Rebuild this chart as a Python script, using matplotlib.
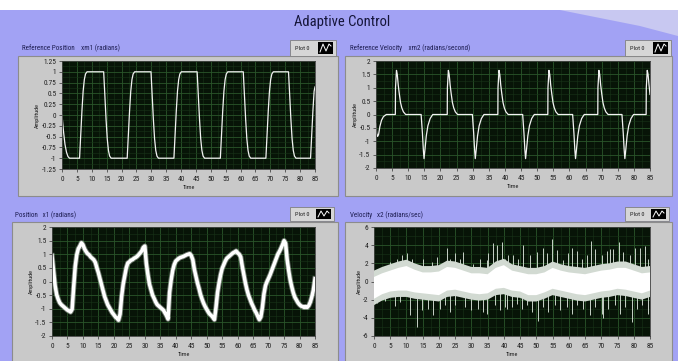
import numpy as np
import matplotlib.pyplot as plt
from matplotlib import font_manager
from matplotlib.patches import Rectangle, Polygon
from matplotlib.ticker import AutoMinorLocator, FormatStrFormatter

names = {f.name for f in font_manager.fontManager.ttflist}
narrow = next((n for n in ['Liberation Sans Narrow', 'DejaVu Sans Condensed',
                           'Roboto Condensed', 'Open Sans Condensed'] if n in names), 'DejaVu Sans')
plt.rcParams['font.family'] = [narrow, 'DejaVu Sans']
plt.rcParams['font.stretch'] = 'condensed'

# reference position xm1 (radians)
ref_pos_t = [0, 0.5, 1.0, 1.5, 2.0, 2.5,
             5.9, 6.3, 6.7, 7.1, 7.5, 7.9, 8.4,
             14.0, 14.4, 14.8, 15.2, 15.6, 16.0, 16.5,
             21.9, 22.3, 22.7, 23.1, 23.5, 23.9, 24.4,
             29.9, 30.3, 30.7, 31.1, 31.5, 31.9, 32.4,
             37.6, 38.0, 38.4, 38.8, 39.2, 39.6, 40.1,
             45.4, 45.8, 46.2, 46.6, 47.0, 47.4, 47.9,
             53.2, 53.6, 54.0, 54.4, 54.8, 55.2, 55.7,
             60.9, 61.3, 61.7, 62.1, 62.5, 62.9, 63.4,
             68.5, 68.9, 69.3, 69.7, 70.1, 70.5, 71.0,
             76.1, 76.5, 76.9, 77.3, 77.7, 78.1, 78.6,
             83.5, 83.9, 84.3, 84.7, 85.0]
ref_pos_y = [0.0, -0.38, -0.68, -0.86, -0.96, -1.0,
             -1.0, -0.45, 0.1, 0.55, 0.82, 0.95, 1.0,
             1.0, 0.45, -0.1, -0.55, -0.82, -0.95, -1.0,
             -1.0, -0.45, 0.1, 0.55, 0.82, 0.95, 1.0,
             1.0, 0.45, -0.1, -0.55, -0.82, -0.95, -1.0,
             -1.0, -0.45, 0.1, 0.55, 0.82, 0.95, 1.0,
             1.0, 0.45, -0.1, -0.55, -0.82, -0.95, -1.0,
             -1.0, -0.45, 0.1, 0.55, 0.82, 0.95, 1.0,
             1.0, 0.45, -0.1, -0.55, -0.82, -0.95, -1.0,
             -1.0, -0.45, 0.1, 0.55, 0.82, 0.95, 1.0,
             1.0, 0.45, -0.1, -0.55, -0.82, -0.95, -1.0,
             -1.0, -0.45, 0.1, 0.55, 0.65]

# reference velocity xm2 (radians/second)
ref_vel_t = [0, 0.2, 0.5, 0.8, 1.2, 1.7, 2.3, 3.2,
             6.0, 6.05, 6.35, 6.6, 6.9, 7.2, 7.6, 8.0, 8.5, 9.2,
             14.0, 14.4, 14.7, 14.9, 15.2, 15.6, 16.1, 16.8, 17.6,
             22.1, 22.15, 22.45, 22.7, 23.0, 23.3, 23.7, 24.1, 24.6, 25.3,
             29.9, 30.3, 30.6, 30.8, 31.1, 31.5, 32.0, 32.7, 33.5,
             37.8, 37.85, 38.15, 38.4, 38.7, 39.0, 39.4, 39.8, 40.3, 41.0,
             45.5, 45.9, 46.2, 46.4, 46.7, 47.1, 47.6, 48.3, 49.1,
             53.3, 53.35, 53.65, 53.9, 54.2, 54.5, 54.9, 55.3, 55.8, 56.5,
             61.0, 61.4, 61.7, 61.9, 62.2, 62.6, 63.1, 63.8, 64.6,
             68.8, 68.85, 69.15, 69.4, 69.7, 70.0, 70.4, 70.8, 71.3, 72.0,
             76.3, 76.7, 77.0, 77.2, 77.5, 77.9, 78.4, 79.1, 79.9,
             83.8, 83.85, 84.15, 84.4, 84.7, 85.0]
ref_vel_y = [-0.35, -0.7, -0.82, -0.75, -0.45, -0.22, -0.08, 0.0,
             0, 1.0, 1.65, 1.5, 1.1, 0.8, 0.45, 0.25, 0.1, 0,
             0, -0.7, -1.35, -1.65, -1.3, -0.8, -0.42, -0.15, 0,
             0, 1.0, 1.65, 1.5, 1.1, 0.8, 0.45, 0.25, 0.1, 0,
             0, -0.7, -1.35, -1.65, -1.3, -0.8, -0.42, -0.15, 0,
             0, 1.0, 1.65, 1.5, 1.1, 0.8, 0.45, 0.25, 0.1, 0,
             0, -0.7, -1.35, -1.65, -1.3, -0.8, -0.42, -0.15, 0,
             0, 1.0, 1.65, 1.5, 1.1, 0.8, 0.45, 0.25, 0.1, 0,
             0, -0.7, -1.35, -1.65, -1.3, -0.8, -0.42, -0.15, 0,
             0, 1.0, 1.65, 1.5, 1.1, 0.8, 0.45, 0.25, 0.1, 0,
             0, -0.7, -1.35, -1.65, -1.3, -0.8, -0.42, -0.15, 0,
             0, 1.0, 1.65, 1.5, 1.1, 0.75]

# measured position x1 (radians), every 0.5 s
pos_t = np.arange(0, 85.01, 0.5)
pos_y = [0.95, 0.40, -0.15, -0.48, -0.65, -0.78, -0.85, -0.90, -0.95, -1.00,
         -1.05, -1.08, -1.12, -1.02, -0.20, 0.55, 0.98, 1.20, 1.30, 1.42,
         1.35, 1.20, 1.10, 1.02, 0.98, 0.90, 0.85, 0.80, 0.70, 0.50,
         0.32, 0.10, -0.12, -0.35, -0.55, -0.70, -0.85, -0.95, -1.05, -1.15,
         -1.22, -1.30, -1.35, -1.42, -1.20, -0.55, -0.10, 0.20, 0.50, 0.68,
         0.72, 0.78, 0.80, 0.85, 0.88, 0.92, 0.98, 1.05, 1.12, 1.25,
         1.30, 0.65, 0.25, -0.10, -0.30, -0.50, -0.62, -0.75, -0.85, -0.90,
         -0.95, -1.00, -1.05, -1.15, -1.25, -1.38, -0.40, 0.05, 0.40, 0.62,
         0.75, 0.80, 0.85, 0.88, 0.90, 0.92, 0.95, 0.98, 1.00, 1.02,
         0.95, 0.80, 0.45, 0.20, -0.05, -0.25, -0.48, -0.65, -0.80, -0.92,
         -1.02, -1.12, -1.20, -1.25, -1.32, -1.40, -0.95, -0.40, -0.05, 0.25,
         0.48, 0.62, 0.75, 0.85, 0.90, 0.95, 1.00, 1.05, 1.08, 1.12,
         1.05, 1.00, 0.90, 0.55, 0.25, -0.05, -0.30, -0.50, -0.65, -0.80,
         -0.92, -1.05, -1.15, -1.28, -1.40, -1.30, -0.95, -0.45, -0.15, 0.00,
         0.12, 0.25, 0.40, 0.55, 0.70, 0.85, 1.00, 1.10, 1.22, 1.35,
         1.50, 1.40, 0.80, 0.40, 0.05, -0.20, -0.42, -0.58, -0.68, -0.78,
         -0.85, -0.90, -0.92, -0.95, -0.92, -0.95, -0.88, -0.75, -0.55, -0.30,
         0.10]

# measured velocity x2 (radians/sec): band envelopes every 2.5 s and spikes
vel_t = np.arange(0, 85.01, 2.5)
vel_hi = [0.5, 0.9, 1.2, 1.5, 1.7, 1.3, 1.0, 1.0, 1.1, 1.6, 1.5, 1.2, 0.9, 0.9,
          0.8, 1.5, 1.8, 1.2, 1.0, 0.8, 0.8, 1.0, 1.5, 1.2, 1.0, 0.9, 0.8, 1.0,
          1.2, 1.3, 1.5, 1.5, 1.2, 0.9, 1.0]
vel_lo = [-1.9, -1.4, -1.1, -1.0, -1.0, -1.2, -1.3, -1.4, -1.5, -1.0, -0.9, -1.1,
          -1.3, -1.4, -1.3, -0.8, -0.7, -1.0, -1.1, -1.5, -1.5, -1.2, -0.8, -1.0,
          -1.2, -1.4, -1.5, -1.3, -1.1, -1.0, -0.8, -0.9, -1.1, -1.3, -1.0]
vel_hi_out = [1.2, 1.6, 1.9, 2.2, 2.4, 2.0, 1.7, 1.7, 1.8, 2.3, 2.2, 1.9, 1.6, 1.6,
              1.5, 2.2, 2.5, 1.9, 1.7, 1.5, 1.5, 1.7, 2.2, 1.9, 1.7, 1.6, 1.5, 1.7,
              1.9, 2.0, 2.2, 2.2, 1.9, 1.6, 1.7]
vel_lo_out = [-2.6, -2.1, -1.8, -1.7, -1.7, -1.9, -2.0, -2.1, -2.2, -1.7, -1.6, -1.8,
              -2.0, -2.1, -2.0, -1.5, -1.4, -1.7, -1.8, -2.2, -2.2, -1.9, -1.5, -1.7,
              -1.9, -2.1, -2.2, -2.0, -1.8, -1.7, -1.5, -1.6, -1.8, -2.0, -1.7]
spike_t = [4.9, 7.0, 8.5, 10.1, 11.6, 15.2, 17.8, 19.3, 22.4, 23.4, 24.9, 26.5,
           27.5, 30.6, 32.6, 34.7, 35.2, 36.8, 37.8, 39.3, 40.3, 41.4, 42.9, 44.5,
           46.0, 48.0, 50.1, 52.2, 53.2, 54.7, 56.3, 58.3, 59.9, 60.9, 62.4, 64.0,
           65.5, 66.8, 68.1, 70.1, 71.7, 72.7, 73.7, 75.3, 76.8, 78.9, 80.4, 82.0,
           83.5, 84.5,
           0.8, 3.4, 6.5, 8.0, 11.1, 13.1, 14.7, 16.7, 18.3, 20.3, 21.9, 23.4,
           24.9, 28.0, 30.0, 32.1, 33.7, 34.7, 37.3, 38.8, 40.3, 40.9, 42.4, 43.9,
           45.5, 47.0, 48.6, 50.6, 52.2, 53.7, 55.7, 57.3, 59.4, 60.9, 62.4, 64.5,
           66.5, 68.1, 70.1, 70.6, 72.2, 74.2, 75.7, 77.3, 79.4, 80.9, 82.5, 84.3]
spike_v = [2.2, 2.5, 2.9, 3.1, 2.5, 2.5, 2.2, 2.7, 3.7, 2.5, 3.1, 2.5,
           3.2, 1.9, 2.5, 2.4, 3.1, 4.2, 4.0, 4.3, 2.5, 2.9, 2.9, 2.5,
           4.0, 2.9, 3.3, 3.7, 3.1, 4.7, 3.5, 2.4, 3.1, 3.7, 3.4, 2.5,
           2.9, 4.5, 3.6, 2.9, 3.4, 3.6, 3.6, 4.3, 3.3, 2.9, 3.7, 3.7,
           3.9, 2.5,
           -2.4, -2.2, -2.7, -2.3, -3.7, -5.0, -3.1, -3.0, -3.7, -3.0, -2.6, -3.4,
           -2.6, -2.8, -3.1, -3.0, -3.4, -3.6, -2.6, -3.1, -2.8, -3.0, -2.8, -2.5,
           -3.0, -2.6, -3.4, -4.3, -2.8, -3.4, -2.6, -3.1, -2.8, -3.6, -2.6, -3.0,
           -3.7, -2.8, -3.6, -4.0, -3.0, -2.6, -3.6, -2.8, -4.5, -3.0, -2.6, -3.6]

x_ticks = np.arange(0, 86, 5)

W, H = 678, 361
fig = plt.figure(figsize=(W / 100, H / 100), dpi=100)
fig.patch.set_facecolor('#a2a2f4')

bg = fig.add_axes([0, 0, 1, 1])
bg.set_xlim(0, W)
bg.set_ylim(H, 0)
bg.axis('off')

# washed-out strip along the top of the screenshot
bg.add_patch(Rectangle((0, 0), W, 10, fc='white', ec='none'))
bg.add_patch(Polygon([(560, 10), (678, 10), (678, 36), (640, 26)], fc='#e2e2f0', ec='none', alpha=0.6))
bg.text(342, 22, 'Adaptive Control', ha='center', va='center', fontsize=10.5, color='#15153a')


def plot0_box(x, y, w, h):
    bg.add_patch(Rectangle((x, y), w, h, fc='#d6d6d6', ec='#808080', lw=0.6))
    bg.text(x + 5, y + h / 2, 'Plot 0', fontsize=4.5, va='center', color='#202020')
    bg.add_patch(Rectangle((x + w - 18, y + 2), 15, h - 4, fc='black', ec='none'))
    bg.plot([x + w - 16, x + w - 13, x + w - 10, x + w - 7, x + w - 5],
            [y + h - 4, y + 4, y + h - 5, y + 4, y + 6], color='white', lw=0.7)


def panel(frame, area, label, label_xy, box, ylim, yticks):
    fx0, fy0, fx1, fy1 = frame
    bg.add_patch(Rectangle((fx0, fy0), fx1 - fx0, fy1 - fy0, fc='#c9c9c9', ec='#8c8c8c', lw=0.8))
    bg.text(label_xy[0], label_xy[1], label, fontsize=5, va='center', color='#1c1c50')
    plot0_box(*box)
    x0, y0, x1, y1 = area
    ax = fig.add_axes([x0 / W, 1 - y1 / H, (x1 - x0) / W, (y1 - y0) / H])
    ax.set_facecolor('#071407')
    ax.set_xlim(0, 85)
    ax.set_ylim(*ylim)
    ax.set_xticks(x_ticks)
    ax.set_yticks(yticks)
    ax.yaxis.set_major_formatter(FormatStrFormatter('%g'))
    ax.xaxis.set_minor_locator(AutoMinorLocator(2))
    ax.yaxis.set_minor_locator(AutoMinorLocator(2))
    ax.grid(which='major', color='#2a552a', lw=0.6)
    ax.grid(which='minor', color='#183418', lw=0.4)
    ax.set_axisbelow(True)
    ax.tick_params(which='major', length=2.5, width=0.5, labelsize=5.3,
                   colors='#303030', labelcolor='#202020')
    ax.tick_params(axis='x', pad=2.5)
    ax.tick_params(axis='y', pad=1.5)
    ax.tick_params(which='minor', length=0)
    for s in ax.spines.values():
        s.set_color('#404040')
        s.set_linewidth(0.6)
    ax.set_xlabel('Time', fontsize=4.5, labelpad=1.5, color='#202020')
    ax.set_ylabel('Amplitude', fontsize=4.5, labelpad=1, color='#202020')
    return ax


ax1 = panel((18, 56, 338, 196), (62, 61, 315, 169),
            'Reference Position    xm1 (radians)', (22, 48), (290, 40, 46, 16),
            (-1.25, 1.25), np.arange(-1.25, 1.26, 0.25))
ax1.plot(ref_pos_t, ref_pos_y, color='#f2f2f2', lw=0.9)

ax2 = panel((345, 56, 672, 196), (376, 61, 650, 168),
            'Reference Velocity    xm2 (radians/second)', (350, 48), (625, 40, 46, 16),
            (-2, 2), np.arange(-2, 2.01, 0.5))
ax2.plot(ref_vel_t, ref_vel_y, color='#f2f2f2', lw=0.9)

ax3 = panel((12, 222, 338, 365), (52, 227, 315, 336),
            'Position   x1 (radians)', (15, 215), (290, 207, 44, 14),
            (-2, 2), np.arange(-2, 2.01, 0.5))
ax3.plot(pos_t, pos_y, color='#e8ece8', lw=3.8, alpha=0.45)
ax3.plot(pos_t, pos_y, color='white', lw=2.5)

ax4 = panel((345, 222, 672, 365), (374, 227, 650, 336),
            'Velocity   x2 (radians/sec)', (350, 215), (625, 207, 44, 14),
            (-6, 6), np.arange(-6, 6.01, 2))
ax4.vlines(spike_t, 0, spike_v, color='#c8d2c8', lw=0.7, zorder=2)
ax4.fill_between(vel_t, vel_lo_out, vel_hi_out, facecolor='#d2dad2', edgecolor='none', zorder=3)
ax4.fill_between(vel_t, vel_lo, vel_hi, facecolor='white', edgecolor='none', zorder=4)

fig.savefig('out.png', dpi=100, facecolor=fig.get_facecolor())
